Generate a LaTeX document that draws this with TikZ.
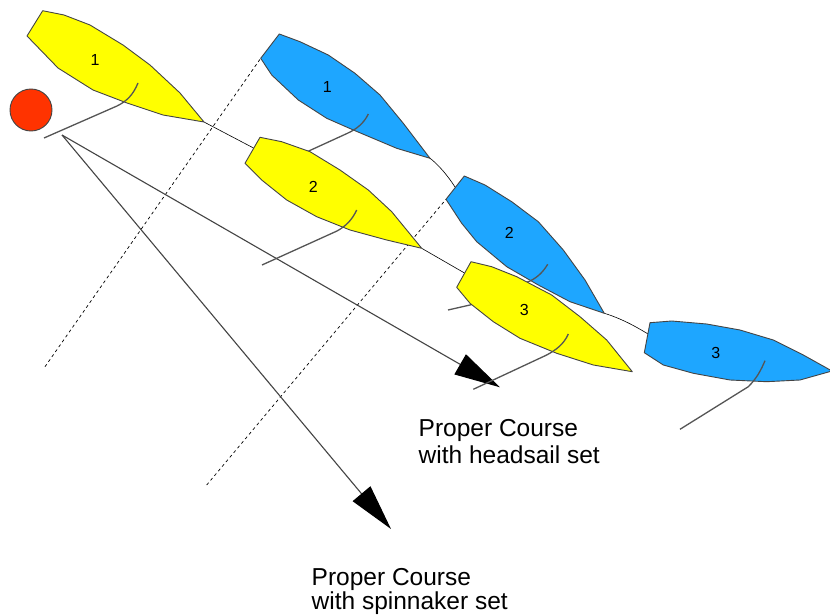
\documentclass[tikz,border=0pt]{standalone}
\usepackage{fontspec}
\setmainfont{Liberation Sans}
\usetikzlibrary{arrows.meta}
\definecolor{boatyellow}{HTML}{FFFF00}
\definecolor{boatblue}{HTML}{1EA6FF}
\definecolor{markred}{HTML}{FF3300}
\definecolor{outlinegray}{HTML}{444444}
\definecolor{sailgray}{HTML}{555555}
\begin{document}
\begin{tikzpicture}[x=1pt,y=-1pt,
  hull/.style={draw=outlinegray, line width=0.9pt, line join=round},
  yhull/.style={hull, fill=boatyellow},
  bhull/.style={hull, fill=boatblue},
  sail/.style={draw=sailgray, line width=1.3pt},
  wake/.style={draw=black, line width=0.6pt},
  course/.style={draw=outlinegray, line width=1.1pt, -{Triangle[length=46pt,width=23pt,color=black]}},
  guide/.style={draw=black, line width=0.7pt, dash pattern=on 3pt off 3pt},
  num/.style={font=\fontsize{16}{16}\selectfont, inner sep=0pt},
  lbl/.style={font=\fontsize{24.5}{26}\selectfont, anchor=base west, inner sep=0pt}
]
\useasboundingbox (0,0) rectangle (830,615);
\fill[white] (0,0) rectangle (830,615);

% key points
\coordinate (start) at (62,135);
\coordinate (headtip) at (500,387.3);
\coordinate (spintip) at (391,529);
\coordinate (g1a) at (45,366.7);
\coordinate (b1stern) at (260.7,58.3);
\coordinate (g2a) at (206.7,485);
\coordinate (b2stern) at (446,199.3);
\coordinate (y1bow) at (204,122);
\coordinate (y2st) at (253.5,148);
\coordinate (b1bow) at (429,157.5);
\coordinate (b2st) at (455,187);
\coordinate (y2bow) at (421.7,248.3);
\coordinate (y3st) at (464.5,273);
\coordinate (b2bow) at (604.3,313.3);
\coordinate (b3st) at (648,334);

% guide lines
\draw[guide] (g1a) -- (b1stern);
\draw[guide] (g2a) -- (b2stern);

% courses
\draw[course] (start) -- (headtip);
\draw[course] (start) -- (spintip);

% wakes
\draw[wake] (y1bow) -- (y2st);
\draw[wake] (b1bow) .. controls (438,164) and (448,176) .. (b2st);
\draw[wake] (y2bow) -- (y3st);
\draw[wake] (b2bow) .. controls (620,318) and (635,326) .. (b3st);

% mark
\node[circle, draw=outlinegray, line width=0.9pt, fill=markred, minimum size=42pt, inner sep=0pt] (mark) at (31,110) {};

% yellow 1
\draw[yhull] (42.7,10.7) -- (64,15) -- (90,25) -- (123,45) -- (150,65) -- (180,93) -- (204,122) -- (163,115) -- (127,103) -- (93,90) -- (58,68) -- (27,36) -- cycle;
\node[num] (y1n) at (95,60) {1};
\draw[sail] (138,83) .. controls (133,95) and (127,101) .. (117,106) -- (44,138);

% blue 1
\draw[bhull] (279.3,34) -- (300,41.7) -- (328.3,55) -- (355,73.3) -- (380,95) -- (403.3,123.3) -- (430,158.3) -- (396.7,148.3) -- (353.3,130) -- (326.7,118.3) -- (298.3,100) -- (271.7,75) -- (260.7,58.3) -- cycle;
\node[num] (b1n) at (327.3,86.7) {1};
\draw[sail] (368.3,114) .. controls (364,123) and (357,129) .. (347,133.5) -- (300,155);

% yellow 2
\draw[yhull] (260,137.3) -- (281.7,141.7) -- (310,151.7) -- (340,170) -- (368.3,190) -- (391.7,211.7) -- (421.7,248.3) -- (386.7,240) -- (350,230) -- (316.7,216.7) -- (286.7,200) -- (261.7,180) -- (245,163.3) -- cycle;
\node[num] (y2n) at (313.3,186.7) {2};
\draw[sail] (356.7,210) .. controls (352,220) and (346,226) .. (337,231) -- (262,265);

% blue 2
\draw[bhull] (464.3,176) -- (485,185) -- (511.7,201.7) -- (538.3,221.7) -- (563.3,250) -- (585,280) -- (604.3,313.3) -- (570,301.7) -- (538.3,285) -- (506.7,266.7) -- (476.7,241.7) -- (461.7,223.3) -- (446,199.3) -- cycle;
\node[num] (b2n) at (509.3,233.3) {2};
\draw[sail] (547.7,264.3) .. controls (543,272) and (538,277) .. (530,281) -- (470,305) -- (448,310);

% yellow 3
\draw[yhull] (471,261.7) -- (491.7,266.7) -- (516.7,276.7) -- (551.7,295) -- (580,316.7) -- (606.7,340) -- (632.3,371.7) -- (593.3,365) -- (556.7,353.3) -- (520,338.3) -- (493.3,321.7) -- (470,303.3) -- (456.7,287.3) -- cycle;
\node[num] (y3n) at (524.3,310) {3};
\draw[sail] (568.3,334) .. controls (564,344) and (556,350) .. (546.7,355) -- (473.3,389.3);

% blue 3
\draw[bhull] (650,322.7) -- (671.7,321) -- (706.7,324) -- (740,330) -- (773.3,340) -- (803.3,355) -- (832,371) -- (800,380) -- (766.7,381.7) -- (730,380) -- (693.3,373.3) -- (663.3,365) -- (644.3,352.7) -- cycle;
\node[num] (b3n) at (715.7,352.7) {3};
\draw[sail] (765,360.7) .. controls (761,370) and (757,378) .. (748.3,386.7) -- (680,429.3);

% labels
\node[lbl] (h1) at (418.5,436.5) {Proper Course};
\node[lbl] (h2) at (418.5,463) {with headsail set};
\node[lbl] (s1) at (311.5,585) {Proper Course};
\node[lbl] (s2) at (311.5,609) {with spinnaker set};
\end{tikzpicture}
\end{document}
